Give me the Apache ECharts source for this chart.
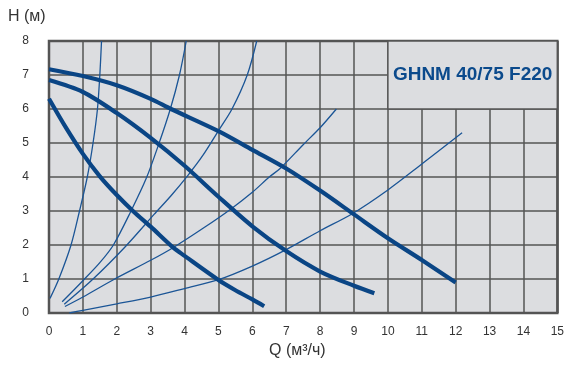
<!DOCTYPE html>
<html><head><meta charset="utf-8">
<script src="https://cdn.jsdelivr.net/npm/echarts@6/dist/echarts.min.js"></script>
<style>html,body{margin:0;padding:0;background:#fff}#c{width:567px;height:365px}</style>
</head><body><div id="c"></div>
<script>
// Axis ticks
var xTicks = [0,1,2,3,4,5,6,7,8,9,10,11,12,13,14,15];
var yTicks = [0,1,2,3,4,5,6,7,8];
var xTitle = 'Q (м³/ч)';
var yTitle = 'H (м)';
var modelLabel = 'GHNM 40/75 F220';

// Pump curves (thick)
var pumpHigh = [[0,7.17],[1,6.97],[2,6.7],[3,6.3],[3.6,6.0],[5,5.35],[6,4.8],[7,4.25],[8,3.6],[9,2.9],[10,2.2],[11,1.56],[12,0.9]];
var pumpMid  = [[0,6.85],[1,6.5],[2,5.88],[3,5.15],[4,4.33],[5,3.42],[6,2.55],[7,1.82],[8,1.22],[9,0.8],[9.6,0.58]];
var pumpLow  = [[0,6.3],[0.5,5.45],[1,4.68],[1.5,4.02],[2,3.47],[2.5,2.98],[3,2.54],[3.66,1.93],[4,1.68],[5,0.97],[5.5,0.67],[6,0.4],[6.35,0.2]];

// System curves (thin)
var sys1 = [[0.03,0.43],[0.29,1],[0.65,2],[0.9,3],[1.13,4],[1.3,5],[1.43,6],[1.5,7],[1.55,8]];
var sys2 = [[0.39,0.33],[1.0,0.95],[1.5,1.48],[1.9,2],[2.42,3],[2.87,3.96],[3.25,5],[3.58,6],[3.85,7],[4.05,8]];
var sys3 = [[0.45,0.26],[1.3,1.0],[2.25,1.95],[3.1,2.9],[3.6,3.45],[4.1,4.05],[4.55,4.65],[4.98,5.33],[5.4,6],[5.85,7],[6.13,8]];
var sys4 = [[0.47,0.19],[1,0.47],[1.94,1.0],[3,1.55],[3.66,1.92],[4.59,2.52],[5.37,3.06],[6,3.55],[6.5,4.0],[6.82,4.25],[7.5,4.95],[8,5.45],[8.48,6.0]];
var sys5 = [[0.6,0.0],[1,0.08],[2,0.27],[3,0.47],[4,0.72],[5,0.98],[6,1.38],[6.97,1.85],[8,2.42],[8.95,2.92],[10,3.62],[11,4.38],[12.19,5.3]];

var thickColor = '#0a4585';
var thinColor = '#1b5596';
var font = 'Liberation Sans, Arial, sans-serif';

function thick(d){return {type:'line',data:d,smooth:0.3,symbol:'none',lineStyle:{color:thickColor,width:4.2,cap:'butt'},z:4};}
function thin(d){return {type:'line',data:d,smooth:0.3,symbol:'none',lineStyle:{color:thinColor,width:1.3},z:3};}

var chart = echarts.init(document.getElementById('c'));
var series = [
  thin(sys1),thin(sys2),thin(sys3),thin(sys4),thin(sys5),
  thick(pumpHigh),thick(pumpMid),thick(pumpLow),
  {type:'line',data:[],markArea:{silent:true,itemStyle:{color:'#dcdde0',borderColor:'#555',borderWidth:1.5},
    label:{show:true,position:'inside',formatter:modelLabel,color:'#0b4a8c',fontWeight:'bold',fontSize:19,fontFamily:font},
    data:[[{coord:[10,6]},{coord:[15,8]}]]},z:2}
];
chart.setOption({
  animation:false,
  backgroundColor:'#ffffff',
  grid:{left:49,right:8,top:41,bottom:52,show:true,backgroundColor:'#dcdde0',borderColor:'#555',borderWidth:2.5},
  xAxis:{type:'value',min:xTicks[0],max:xTicks[xTicks.length-1],interval:1,
    axisLine:{show:false},axisTick:{show:false},
    splitLine:{show:true,lineStyle:{color:'#555',width:1.5}},
    axisLabel:{margin:13,color:'#333',fontSize:12,fontFamily:font}},
  yAxis:{type:'value',min:yTicks[0],max:yTicks[yTicks.length-1],interval:1,
    axisLine:{show:false},axisTick:{show:false},
    splitLine:{show:true,lineStyle:{color:'#555',width:1.5}},
    axisLabel:{margin:20,color:'#333',fontSize:12,fontFamily:font}},
  graphic:[
    {type:'text',left:8,top:9,style:{text:yTitle,fontSize:16,fontFamily:font,fill:'#333'}},
    {type:'text',left:269,top:343,style:{text:xTitle,fontSize:16,fontFamily:font,fill:'#333'}}
  ],
  series:series
});
</script></body></html>
